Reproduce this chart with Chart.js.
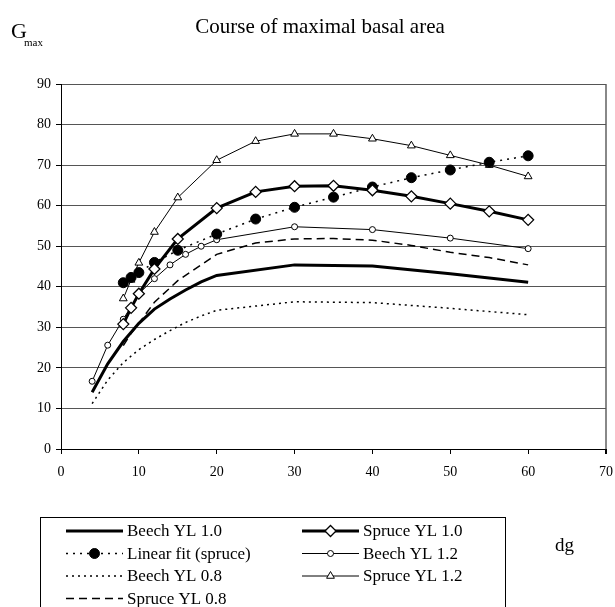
<!DOCTYPE html>
<html>
<head>
<meta charset="utf-8">
<script src="https://cdn.jsdelivr.net/npm/chart.js@4.4.1/dist/chart.umd.min.js"></script>
<style>
  body { margin: 0; background: #fff; }
  #myChart { display: block; }
</style>
</head>
<body>
<canvas id="myChart" width="615" height="607"></canvas>
<script>
// x values (dg)
const beechX = [4, 6, 8, 10, 12, 14, 16, 18, 20, 30, 40, 50, 60];
const spruceX = [8, 9, 10, 12, 15, 20, 25, 30, 35, 40, 45, 50, 55, 60];

// Gmax values
const beech10 = [14, 21, 26.5, 31, 34.5, 37, 39.2, 41.2, 42.8, 45.4, 45.1, 43.2, 41.1];
const beech12 = [16.7, 25.6, 32, 38.3, 42, 45.4, 48, 50, 51.6, 54.8, 54.1, 52, 49.4];
const beech08 = [11.2, 17, 21.3, 24.5, 27, 29.2, 31.2, 32.8, 34.2, 36.3, 36.1, 34.7, 33.1];
const spruce10 = [30.8, 34.8, 38.3, 44.4, 51.8, 59.4, 63.4, 64.8, 64.9, 63.8, 62.3, 60.5, 58.6, 56.5];
const spruce12 = [37.1, 41.7, 45.9, 53.5, 62, 71.2, 75.9, 77.7, 77.7, 76.5, 74.8, 72.4, 70, 67.2];
const spruce08 = [25.5, 28.5, 31, 36.2, 41.5, 48, 50.8, 51.8, 51.9, 51.5, 50.2, 48.5, 47.2, 45.4];
const linFit = [41, 42.3, 43.5, 46, 49, 53, 56.7, 59.6, 62.1, 64.6, 66.9, 68.8, 70.7, 72.3];

const xTicks = [0, 10, 20, 30, 40, 50, 60, 70];
const yTicks = [0, 10, 20, 30, 40, 50, 60, 70, 80, 90];

const serif = "'Liberation Serif', 'Times New Roman', serif";

const pts = (xs, ys) => xs.map((x, i) => ({ x: x, y: ys[i] }));

const datasets = [
  {
    label: "Beech YL 1.0",
    data: pts(beechX, beech10),
    borderColor: "#000",
    borderWidth: 3,
    pointRadius: 0,
  },
  {
    label: "Spruce YL 1.0",
    data: pts(spruceX, spruce10),
    borderColor: "#000",
    borderWidth: 3,
    pointStyle: "rectRot",
    pointRadius: 5.5,
    pointBorderWidth: 1.3,
    pointBackgroundColor: "#fff",
    pointBorderColor: "#000",
  },
  {
    label: "Linear fit (spruce)",
    data: pts(spruceX, linFit),
    borderColor: "#000",
    borderWidth: 1.5,
    borderDash: [2, 5],
    pointStyle: "circle",
    pointRadius: 5,
    pointBorderWidth: 1,
    pointBackgroundColor: "#000",
    pointBorderColor: "#000",
  },
  {
    label: "Beech YL 1.2",
    data: pts(beechX, beech12),
    borderColor: "#000",
    borderWidth: 1,
    pointStyle: "circle",
    pointRadius: 3,
    pointBorderWidth: 1,
    pointBackgroundColor: "#fff",
    pointBorderColor: "#000",
  },
  {
    label: "Beech YL 0.8",
    data: pts(beechX, beech08),
    borderColor: "#000",
    borderWidth: 1.5,
    borderDash: [2, 4],
    pointRadius: 0,
  },
  {
    label: "Spruce YL 1.2",
    data: pts(spruceX, spruce12),
    borderColor: "#000",
    borderWidth: 1,
    pointStyle: "triangle",
    pointRadius: 4.5,
    pointBorderWidth: 1,
    pointBackgroundColor: "#fff",
    pointBorderColor: "#000",
  },
  {
    label: "Spruce YL 0.8",
    data: pts(spruceX, spruce08),
    borderColor: "#000",
    borderWidth: 1.5,
    borderDash: [8, 5],
    pointRadius: 0,
  },
];

// texts around the plot + the boxed two column legend
const decorations = {
  id: "decorations",
  afterDraw: (chart) => {
    const ctx = chart.ctx;
    ctx.save();
    ctx.fillStyle = "#000";
    ctx.textBaseline = "alphabetic";

    ctx.font = "21px " + serif;
    ctx.textAlign = "center";
    ctx.fillText("Course of maximal basal area", 320, 33);

    ctx.textAlign = "left";
    ctx.font = "22px " + serif;
    ctx.fillText("G", 11, 38);
    ctx.font = "11px " + serif;
    ctx.fillText("max", 24, 46);

    ctx.font = "19px " + serif;
    ctx.fillText("dg", 555, 551);

    // legend box
    ctx.strokeStyle = "#000";
    ctx.lineWidth = 1;
    ctx.strokeRect(40.5, 517.5, 465, 95);

    ctx.font = "17px " + serif;
    ctx.textBaseline = "middle";
    chart.data.datasets.forEach((ds, i) => {
      const col = i % 2;
      const row = Math.floor(i / 2);
      const x0 = col ? 302 : 66;
      const x1 = x0 + 57;
      const y = 531 + row * 22.5;
      ctx.save();
      ctx.strokeStyle = ds.borderColor;
      ctx.lineWidth = ds.borderWidth;
      ctx.setLineDash(ds.borderDash || []);
      ctx.beginPath();
      ctx.moveTo(x0, y);
      ctx.lineTo(x1, y);
      ctx.stroke();
      ctx.restore();
      if (ds.pointRadius > 0) {
        ctx.save();
        ctx.fillStyle = ds.pointBackgroundColor;
        ctx.strokeStyle = ds.pointBorderColor;
        ctx.lineWidth = ds.pointBorderWidth;
        Chart.helpers.drawPoint(ctx, {
          pointStyle: ds.pointStyle,
          radius: ds.pointRadius,
          rotation: 0,
          borderWidth: ds.pointBorderWidth,
        }, (x0 + x1) / 2, y);
        ctx.restore();
      }
      ctx.fillStyle = "#000";
      ctx.fillText(ds.label, x1 + 4, y + 1);
    });
    ctx.restore();
  },
};

const config = {
  type: "line",
  data: { datasets: datasets },
  options: {
    responsive: false,
    animation: false,
    layout: { padding: { top: 84, right: 9, bottom: 0, left: 0 } },
    elements: { line: { tension: 0 } },
    plugins: {
      legend: { display: false },
      title: { display: false },
      tooltip: { enabled: false },
    },
    scales: {
      x: {
        type: "linear",
        min: 0,
        max: 70,
        afterFit: (s) => {
          s.height = 158;
          s.paddingRight = 0;
        },
        afterBuildTicks: (s) => { s.ticks = xTicks.map((v) => ({ value: v })); },
        border: { display: true, color: "#000", width: 1 },
        grid: {
          drawOnChartArea: true,
          color: (c) => (c.tick && c.tick.value === 70 ? "#888" : "rgba(0,0,0,0)"),
          tickColor: "#000",
          tickLength: 5,
          lineWidth: (c) => (c.tick && c.tick.value === 70 ? 2 : 1),
        },
        ticks: {
          color: "#000",
          padding: 10,
          maxRotation: 0,
          font: { family: serif, size: 14 },
        },
      },
      y: {
        min: 0,
        max: 90,
        afterFit: (s) => { s.width = 61; },
        afterBuildTicks: (s) => { s.ticks = yTicks.map((v) => ({ value: v })); },
        border: { display: true, color: "#000", width: 1 },
        grid: {
          color: "#555",
          tickColor: "#000",
          tickLength: 5,
          lineWidth: 1,
        },
        ticks: {
          color: "#000",
          padding: 5,
          font: { family: serif, size: 14 },
        },
      },
    },
  },
  plugins: [decorations],
};

const myChart = new Chart(document.getElementById("myChart"), config);
</script>
</body>
</html>
